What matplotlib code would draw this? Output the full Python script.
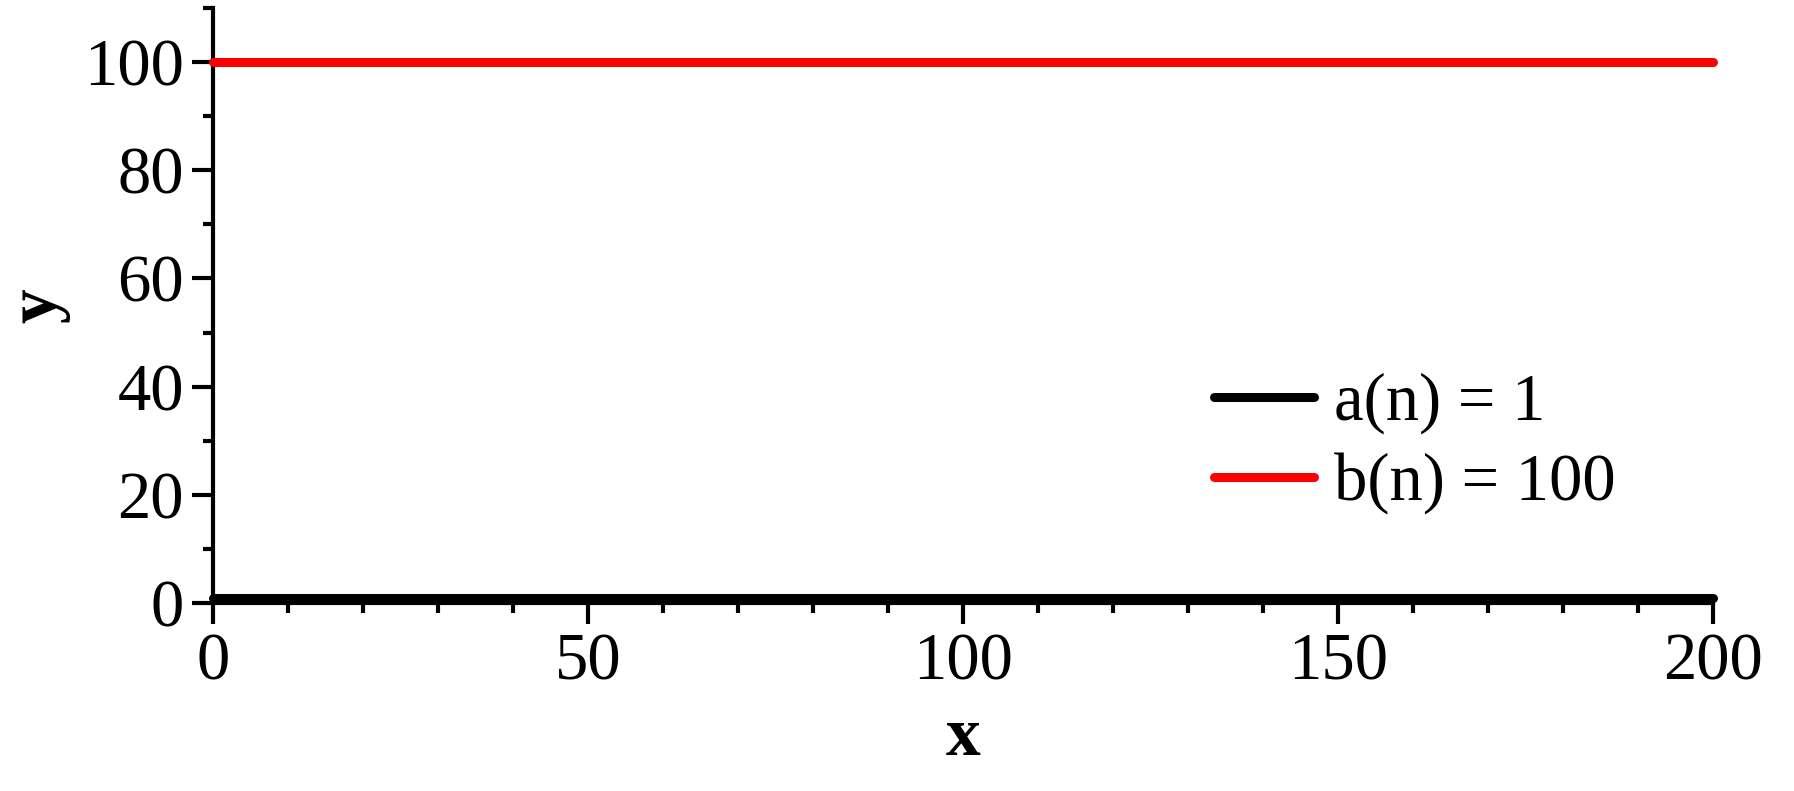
import matplotlib
matplotlib.use("Agg")
import matplotlib.pyplot as plt
from matplotlib.ticker import MultipleLocator

plt.rcParams['font.family'] = ['Liberation Serif', 'DejaVu Serif']

n = [0, 200]
a_vals = [1, 1]
b_vals = [100, 100]
labels = ["a(n) = 1", "b(n) = 100"]
colors = ["black", "#ff0000"]

fig = plt.figure(figsize=(17.94, 7.91), dpi=100)
ax = fig.add_axes([213/1794, 1 - 603/791, (1713-213)/1794, (603-8)/791])

ax.plot(n, a_vals, color=colors[0], lw=6.5, solid_capstyle='round', label=labels[0], clip_on=False, zorder=3)
ax.plot(n, b_vals, color=colors[1], lw=6.5, solid_capstyle='round', label=labels[1], clip_on=False, zorder=3)

ax.set_xlim(0, 200)
ax.set_ylim(0, 110)
ax.xaxis.set_major_locator(MultipleLocator(50))
ax.xaxis.set_minor_locator(MultipleLocator(10))
ax.yaxis.set_major_locator(MultipleLocator(20))
ax.yaxis.set_minor_locator(MultipleLocator(10))

for s in ['top', 'right']:
    ax.spines[s].set_visible(False)
for s in ['left', 'bottom']:
    ax.spines[s].set_linewidth(3)

ax.tick_params(which='major', direction='out', length=15, width=3, labelsize=48, pad=6)
ax.tick_params(which='minor', direction='out', length=7, width=3)

ax.set_xlabel("x", fontsize=50, fontweight='bold', labelpad=9)
ax.set_ylabel("y", fontsize=50, fontweight='bold', labelpad=10)

leg = ax.legend(loc='center left', bbox_to_anchor=(0.667, 0.268), frameon=False,
                fontsize=48, handlelength=1.5, handletextpad=0.3, labelspacing=0.27,
                borderpad=0, borderaxespad=0)

fig.savefig("out.png", dpi=100)
